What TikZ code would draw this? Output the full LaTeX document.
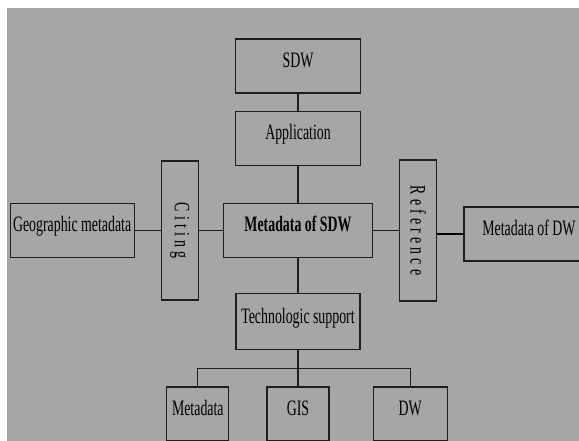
\documentclass[tikz,border=0pt]{standalone}
\usepackage{fontspec}
\setmainfont{Liberation Serif}[FakeStretch=0.63]
\usepackage{tikz}
\usetikzlibrary{positioning}
\definecolor{PanelGray}{RGB}{166,166,166}
\definecolor{InkGray}{RGB}{30,30,30}

\begin{document}
\begin{tikzpicture}[
    box/.style={rectangle, draw=InkGray, line width=1.2pt, inner sep=0pt,
                minimum width=#1, minimum height=54pt,
                font=\fontsize{22pt}{24pt}\selectfont, text=black,
                text height=15pt, text depth=12pt},
    box/.default=124pt,
    vbox/.style={rectangle, draw=InkGray, line width=1.2pt, inner sep=0pt,
                 minimum width=37pt, minimum height=#1,
                 font=\fontsize{22pt}{24pt}\selectfont\addfontfeature{LetterSpace=19}},
    link/.style={draw=InkGray, line width=1.2pt},
    thicklink/.style={draw=black, line width=2.6pt},
]

% ── Page frame and grey panel ──
\clip (0pt,0pt) rectangle (579pt,-441pt);
\fill[white] (0pt,0pt) rectangle (579pt,-441pt);
\fill[PanelGray] (7pt,-8pt) rectangle (579pt,-441pt);

% ── Centre node ──
\node[box=149pt, font=\fontsize{22pt}{24pt}\selectfont\bfseries]
    (mdsdw) at (298pt,-230.5pt) {Metadata of SDW};

% ── Upper column ──
\node[box=125pt, above=37pt of mdsdw] (app) {Application};
\node[box=125pt, above=17pt of app] (sdw) {SDW};

% ── Left side ──
\node[vbox=139pt, left=24pt of mdsdw] (citing) {\rotatebox{-90}{Citing}};
\node[box, left=26pt of citing] (geo) {Geographic metadata};

% ── Right side ──
\node[vbox=141pt, right=26pt of mdsdw] (ref) {\rotatebox{-90}{Reference}};
\node[box=130pt, right=26pt of ref, yshift=-3.5pt] (mddw) {Metadata of DW};

% ── Lower column ──
\node[box, minimum height=56pt, below=35pt of mdsdw] (tech) {Technologic support};
\node[box=62pt, below=36pt of tech] (gis) {GIS};
\node[box=62pt, left=37pt of gis] (meta) {Metadata};
\node[box=74pt, right=43pt of gis] (dw) {DW};

% ── Connectors ──
\draw[link] (sdw) -- (app);
\draw[link] (app) -- (mdsdw);
\draw[link] (mdsdw) -- (tech);
\draw[link] (geo) -- (citing);
\draw[link] (citing) -- (mdsdw);
\draw[link] (mdsdw) -- (ref);
\draw[thicklink] (ref.east |- mddw) -- (mddw);

% ── Branch to the three supports ──
\coordinate (bus) at ([yshift=-18pt]tech.south);
\draw[link] (tech) -- (bus) -- (gis);
\draw[link] (meta.north) |- (bus) -| (dw.north);

\end{tikzpicture}
\end{document}
